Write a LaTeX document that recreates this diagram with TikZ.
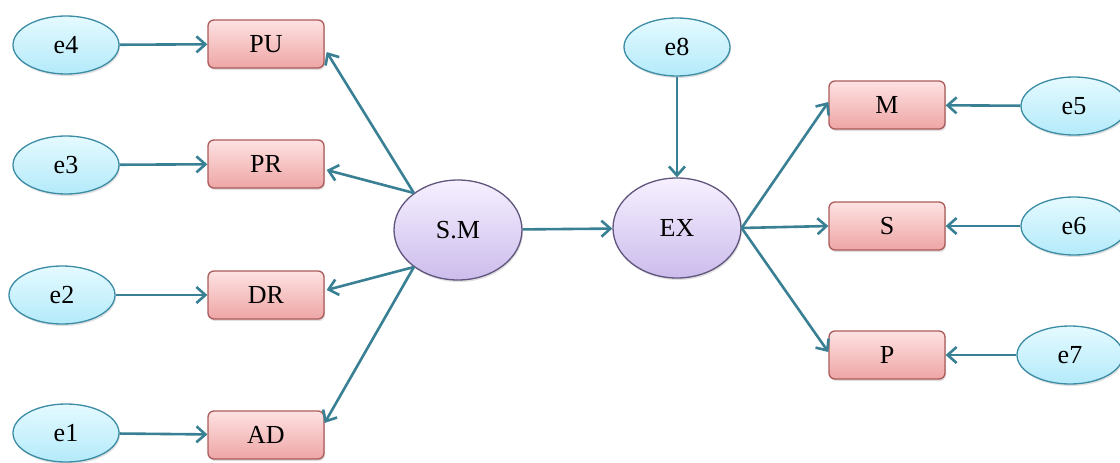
\documentclass[tikz,border=0pt]{standalone}
\usepackage{fontspec}
\setmainfont{Liberation Serif}
\usetikzlibrary{shapes.geometric,arrows.meta,shadows,calc}
\definecolor{errfill}{RGB}{180,234,250}
\definecolor{errtop}{RGB}{228,250,255}
\definecolor{errline}{RGB}{60,140,165}
\definecolor{boxtop}{RGB}{254,226,226}
\definecolor{boxbot}{RGB}{238,165,165}
\definecolor{boxline}{RGB}{170,90,90}
\definecolor{lattop}{RGB}{246,240,255}
\definecolor{latbot}{RGB}{204,188,236}
\definecolor{latline}{RGB}{95,85,125}
\definecolor{arrowcol}{RGB}{58,128,148}
\tikzset{
  every node/.style={font=\fontsize{26}{30}\selectfont, inner sep=0pt},
  errnode/.style={ellipse, draw=errline, line width=1.3pt,
    top color=errtop, bottom color=errfill,
    minimum width=106pt, minimum height=58pt,
    drop shadow={opacity=0.25, shadow xshift=1pt, shadow yshift=-2pt}},
  obsbox/.style={rectangle, rounded corners=6pt, draw=boxline, line width=1.3pt,
    top color=boxtop, bottom color=boxbot,
    minimum width=116pt, minimum height=48pt,
    drop shadow={opacity=0.25, shadow xshift=1pt, shadow yshift=-2pt}},
  latent/.style={ellipse, draw=latline, line width=1.3pt,
    top color=lattop, bottom color=latbot,
    minimum width=128pt, minimum height=100pt,
    drop shadow={opacity=0.25, shadow xshift=1pt, shadow yshift=-2pt}},
  path/.style={draw=arrowcol, line width=2.6pt,
    -{Straight Barb[length=9pt,width=16pt,line width=2.6pt]}}
}
\begin{document}
\begin{tikzpicture}[x=1pt,y=-1pt]
\useasboundingbox (0,0) rectangle (1120,463);

% error terms, left column
\node[errnode] (e4) at (66,45) {e4};
\node[errnode] (e3) at (66,165) {e3};
\node[errnode] (e2) at (62,295) {e2};
\node[errnode] (e1) at (66,433) {e1};

% indicators of S.M
\node[obsbox] (PU) at (266,44) {PU};
\node[obsbox] (PR) at (266,164) {PR};
\node[obsbox] (DR) at (266,295) {DR};
\node[obsbox] (AD) at (266,435) {AD};

% latent variables
\node[latent] (SM) at (458,230) {S.M};
\node[latent] (EX) at (677,228) {EX};
\node[errnode] (e8) at (677,47) {e8};

% indicators of EX
\node[obsbox] (M) at (887,105) {M};
\node[obsbox] (S) at (887,226) {S};
\node[obsbox] (P) at (887,355) {P};

% error terms, right column
\node[errnode] (e5) at (1074,106) {e5};
\node[errnode] (e6) at (1074,226) {e6};
\node[errnode] (e7) at (1070,355) {e7};

% error paths
\draw[path] (e4) -- (PU);
\draw[path] (e3) -- (PR);
\draw[path] (e2) -- (DR);
\draw[path] (e1) -- (AD);
\draw[path] (e5) -- (M);
\draw[path] (e6) -- (S);
\draw[path] (e7) -- (P);
\draw[path] (e8) -- (EX);

% loadings of S.M
\draw[path] (SM.140) -- ($(PU.east)+(2,8)$);
\draw[path] (SM.140) -- ($(PR.east)+(2,6)$);
\draw[path] (SM.220) -- ($(DR.east)+(2,-5)$);
\draw[path] (SM.220) -- ($(AD.east)+(0,-12)$);

% structural path
\draw[path] (SM) -- (EX);

% loadings of EX
\draw[path] (EX.east) -- ($(M.west)+(0,-3)$);
\draw[path] (EX.east) -- (S.west);
\draw[path] (EX.east) -- ($(P.west)+(0,-3)$);
\end{tikzpicture}
\end{document}
